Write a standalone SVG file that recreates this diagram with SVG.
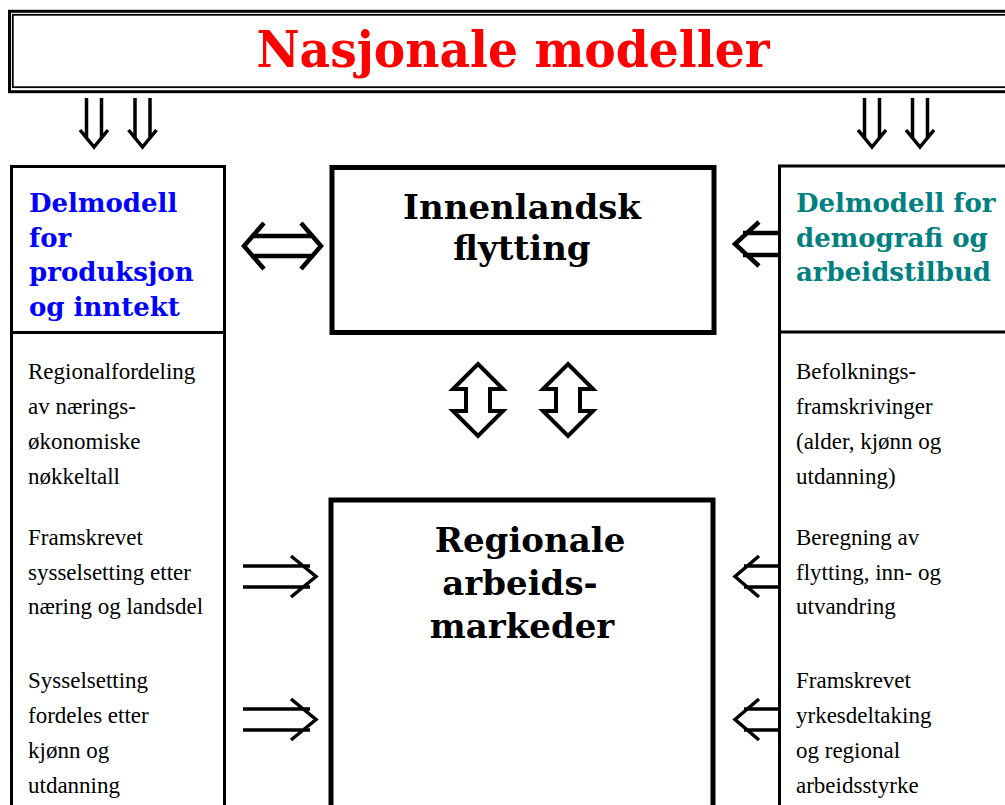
<svg xmlns="http://www.w3.org/2000/svg" width="1005" height="805" viewBox="0 0 1005 805">
<style>
.box{fill:#fff;stroke:#000;stroke-width:3}
.cbox{fill:#fff;stroke:#000;stroke-width:5}
.ttl{font-family:"DejaVu Serif",serif;font-weight:bold}
.body{font-family:"Liberation Serif",serif;font-size:23px;fill:#000}
.arr{fill:none;stroke:#000;stroke-width:3.5;stroke-linejoin:miter}
.arrT{fill:none;stroke:#000;stroke-width:4.5}
.dbl{fill:#fff;stroke:#000;stroke-width:4;stroke-linejoin:miter}
</style>
<rect width="1005" height="805" fill="#fff"/>
<g id="nasjonale">
<rect x="9.5" y="11.3" width="1030" height="80.4" fill="#fff" stroke="#000" stroke-width="3"/>
<rect x="12.8" y="14.8" width="1030" height="72.4" fill="none" stroke="#000" stroke-width="1.8"/>
<text class="ttl" x="513" y="67" font-size="51" fill="#ff0000" text-anchor="middle" textLength="513" lengthAdjust="spacingAndGlyphs">Nasjonale modeller</text>
</g>
<g id="produksjon">
<rect class="box" x="11.5" y="166.5" width="213" height="680"/>
<line x1="11.5" y1="332.5" x2="224.5" y2="332.5" stroke="#000" stroke-width="3"/>
<g class="ttl" font-size="26" fill="#0000ff">
<text x="29" y="212">Delmodell</text>
<text x="29" y="247">for</text>
<text x="29" y="281">produksjon</text>
<text x="29" y="316">og inntekt</text>
</g>
<g class="body">
<text x="28" y="379">Regionalfordeling</text>
<text x="28" y="414">av nærings-</text>
<text x="28" y="449">økonomiske</text>
<text x="28" y="484">nøkkeltall</text>
<text x="28" y="545">Framskrevet</text>
<text x="28" y="580">sysselsetting etter</text>
<text x="28" y="614">næring og landsdel</text>
<text x="28" y="688">Sysselsetting</text>
<text x="28" y="723">fordeles etter</text>
<text x="28" y="758">kjønn og</text>
<text x="28" y="793">utdanning</text>
</g>
</g>
<g id="demografi">
<rect class="box" x="779.5" y="166" width="300" height="680"/>
<line x1="779.5" y1="332" x2="1010" y2="332" stroke="#000" stroke-width="3"/>
<g class="ttl" font-size="26" fill="#008080">
<text x="796" y="212">Delmodell for</text>
<text x="796" y="247">demografi og</text>
<text x="796" y="281">arbeidstilbud</text>
</g>
<g class="body">
<text x="796" y="379">Befolknings-</text>
<text x="796" y="414">framskrivinger</text>
<text x="796" y="449">(alder, kjønn og</text>
<text x="796" y="484">utdanning)</text>
<text x="796" y="545">Beregning av</text>
<text x="796" y="580">flytting, inn- og</text>
<text x="796" y="614">utvandring</text>
<text x="796" y="688">Framskrevet</text>
<text x="796" y="723">yrkesdeltaking</text>
<text x="796" y="758">og regional</text>
<text x="796" y="793">arbeidsstyrke</text>
</g>
</g>
<g id="innenlandsk">
<rect class="cbox" x="332" y="167.5" width="382" height="165"/>
<g class="ttl" font-size="34" fill="#000" text-anchor="middle">
<text x="522" y="219">Innenlandsk</text>
<text x="522" y="260">flytting</text>
</g>
</g>
<g id="regionale">
<rect class="cbox" x="331" y="500" width="382" height="400"/>
<g class="ttl" font-size="34" fill="#000" text-anchor="middle">
<text x="530" y="552">Regionale</text>
<text x="520" y="595">arbeids-</text>
<text x="522" y="638">markeder</text>
</g>
</g>
<g id="connectors">
<path class="arr" d="M86.5,98V139M101.5,98V139M80,130L94,147L108,130"/>
<path class="arr" d="M135,98V139M150,98V139M128.5,130L142.5,147L156.5,130"/>
<path class="arr" d="M864.5,98V139M879.5,98V139M858,130L872,147L886,130"/>
<path class="arr" d="M912.5,98V139M927.5,98V139M906,130L920,147L934,130"/>
<path class="arrT" d="M251,236H314M251,256H314M264,223L244,246L264,269M301,223L321,246L301,269"/>
<path class="arrT" d="M743,233H780M743,255H780M759,222L735,244L759,266"/>
<polygon class="dbl" points="478,364 503,389 490,389 490,411 503,411 478,436 453,411 466,411 466,389 453,389"/>
<polygon class="dbl" points="568,364 593,389 580,389 580,411 593,411 568,436 543,411 556,411 556,389 543,389"/>
<path class="arr" d="M243,566H310M243,587H310M291,556L316,576.5L291,597"/>
<path class="arr" d="M243,709H310M243,730H310M291,699L316,719.5L291,740"/>
<path class="arr" d="M744,566H780M744,587H780M759,556L735,576.5L759,597"/>
<path class="arr" d="M744,709H780M744,730H780M759,699L735,719.5L759,740"/>
</g>
</svg>
